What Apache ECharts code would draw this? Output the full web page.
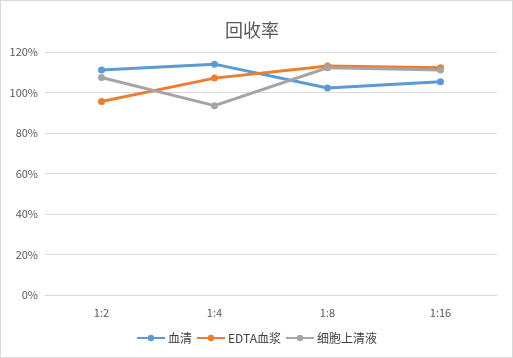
<!DOCTYPE html>
<html><head><meta charset="utf-8">
<script src="https://cdn.jsdelivr.net/npm/echarts@6/dist/echarts.min.js"></script>
<style>html,body{margin:0;padding:0;background:#fff}#c{width:511px;height:356px;border:1px solid #d9d9d9}</style>
</head><body><div id="c"></div>
<script>
var categories = ['1:2', '1:4', '1:8', '1:16'];
var serumValues = [111.1, 114.0, 102.2, 105.3];
var edtaValues = [95.6, 107.1, 113.1, 112.2];
var supernatantValues = [107.4, 93.5, 112.2, 111.1];
var seriesNames = ['血清', 'EDTA血浆', '细胞上清液'];
var yTicks = [0, 20, 40, 60, 80, 100, 120];

var font = '"Microsoft YaHei","Noto Sans CJK SC","DejaVu Sans",sans-serif';
var chart = echarts.init(document.getElementById('c'));
function mk(name, data, color) {
  return {name: name, type: 'line', data: data, symbol: 'circle', symbolSize: 7,
    lineStyle: {width: 3, color: color}, itemStyle: {color: color}};
}
chart.setOption({
  animation: false,
  title: {text: '回收率', left: 219, top: 15,
    textStyle: {fontSize: 18, fontWeight: 'normal', color: '#595959', fontFamily: font}},
  legend: {bottom: 8, left: 'center', itemGap: 4, itemWidth: 28, itemHeight: 8,
    textStyle: {fontSize: 12, color: '#404040', fontFamily: font, padding: [0, 0, 0, -2]}},
  grid: {left: 44, right: 15, top: 51, bottom: 62, containLabel: false},
  xAxis: {type: 'category', data: categories, boundaryGap: true,
    axisLine: {lineStyle: {color: '#d9d9d9', width: 1}}, axisTick: {show: false},
    axisLabel: {color: '#595959', fontSize: 11, margin: 12, fontFamily: font}},
  yAxis: {type: 'value', min: yTicks[0], max: yTicks[yTicks.length - 1], interval: 20,
    axisLine: {show: false}, axisTick: {show: false},
    splitLine: {lineStyle: {color: '#d9d9d9', width: 1}},
    axisLabel: {color: '#595959', fontSize: 11, margin: 7, formatter: '{value}%', fontFamily: font}},
  series: [
    mk(seriesNames[0], serumValues, '#5B9BD5'),
    mk(seriesNames[1], edtaValues, '#ED7D31'),
    mk(seriesNames[2], supernatantValues, '#A5A5A5')
  ]
});
</script></body></html>
